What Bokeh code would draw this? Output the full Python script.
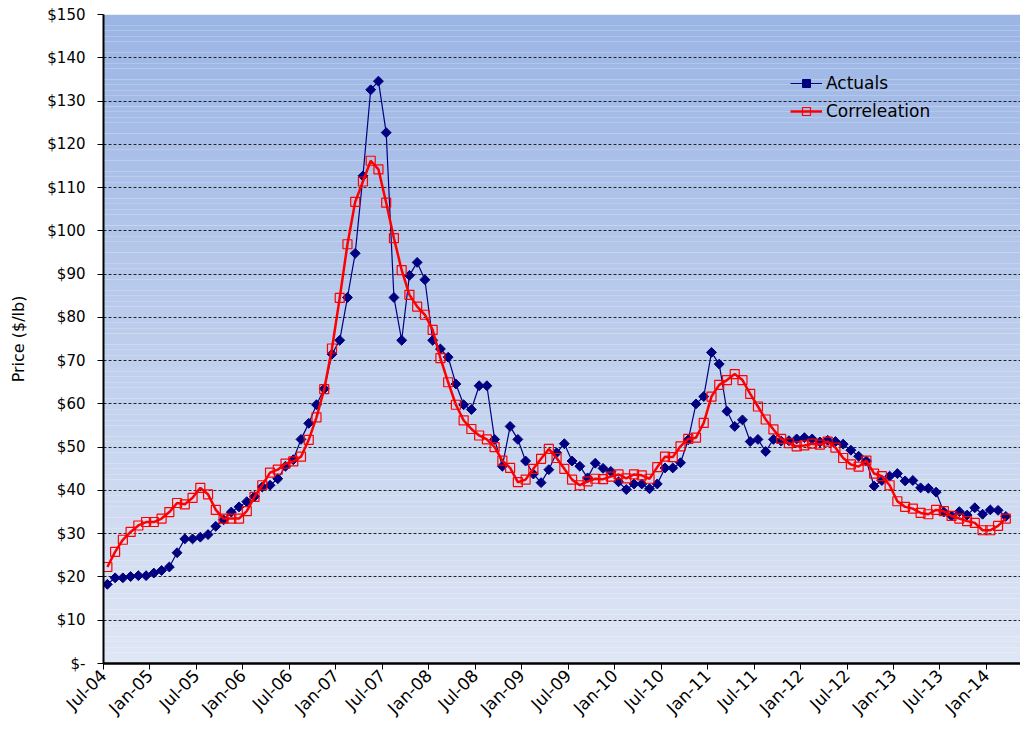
import numpy as np
from bokeh.plotting import figure
from bokeh.models import (Range1d, FixedTicker, Legend, LegendItem, ColumnDataSource)
from bokeh.embed import file_html
from bokeh.resources import INLINE

# ---- data (monthly, Jul-04 .. Mar-14) ----
actuals = [18.3, 19.8, 19.8, 20.1, 20.3, 20.3, 20.9, 21.5, 22.3, 25.6,
           28.8, 28.8, 29.2, 29.8, 31.7, 33.2, 35.0, 36.2, 37.4, 38.6,
           40.8, 41.2, 42.7, 45.6, 47.1, 51.8, 55.5, 59.8, 63.5, 71.5,
           74.7, 84.6, 94.8, 112.7, 132.6, 134.6, 122.7, 84.6, 74.7, 89.7,
           92.7, 88.7, 74.7, 72.7, 70.8, 64.6, 59.8, 58.7, 64.2, 64.2,
           51.8, 45.6, 54.8, 51.8, 46.8, 43.8, 41.8, 44.8, 48.7, 50.8,
           46.8, 45.6, 42.9, 46.3, 45.1, 44.4, 42.0, 40.2, 41.5, 41.5,
           40.4, 41.5, 45.2, 45.2, 46.4, 51.7, 60.0, 61.7, 71.9, 69.2,
           58.3, 54.8, 56.3, 51.3, 51.8, 49.0, 51.8, 51.4, 51.5, 51.9,
           52.2, 51.9, 51.2, 51.6, 51.3, 50.7, 49.3, 47.9, 46.8, 41.0,
           42.3, 43.3, 43.9, 42.2, 42.3, 40.6, 40.5, 39.6, 35.0, 34.1,
           35.1, 34.3, 36.0, 34.5, 35.5, 35.4, 34.0]

correlation = [22.3, 25.8, 28.6, 30.4, 31.9, 32.7, 32.7, 33.5, 35.0, 37.1,
               36.8, 38.3, 40.6, 39.1, 35.5, 33.5, 33.5, 33.5, 35.2, 38.5,
               41.2, 44.1, 44.8, 46.2, 46.7, 47.8, 51.7, 56.9, 63.4, 72.8,
               84.5, 96.9, 106.7, 111.4, 116.2, 114.2, 106.5, 98.3, 90.9, 85.2,
               82.5, 80.6, 77.1, 70.6, 65.0, 59.8, 56.2, 54.2, 52.7, 51.8,
               50.0, 46.9, 45.2, 41.9, 42.5, 45.0, 47.3, 49.6, 47.5, 45.0,
               42.5, 41.2, 42.1, 42.7, 42.6, 43.2, 43.7, 42.8, 43.7, 43.5,
               42.7, 45.4, 47.8, 47.7, 50.2, 51.9, 52.2, 55.6, 61.7, 64.4,
               65.5, 66.9, 65.5, 62.3, 59.4, 56.4, 54.1, 51.9, 50.9, 50.2,
               50.4, 50.8, 50.6, 51.3, 49.9, 47.5, 46.0, 45.5, 46.9, 43.9,
               43.3, 41.2, 37.5, 36.2, 35.8, 34.8, 34.5, 35.5, 35.2, 34.1,
               33.5, 32.9, 32.5, 30.8, 30.8, 31.8, 33.5]

x_tick_labels = ["Jul-04", "Jan-05", "Jul-05", "Jan-06", "Jul-06", "Jan-07",
                 "Jul-07", "Jan-08", "Jul-08", "Jan-09", "Jul-09", "Jan-10",
                 "Jul-10", "Jan-11", "Jul-11", "Jan-12", "Jul-12", "Jan-13",
                 "Jul-13", "Jan-14"]
y_ticks = list(range(0, 151, 10))
y_tick_labels = ["$-"] + ["$%d" % v for v in y_ticks[1:]]

n = len(actuals)
x = np.arange(n) + 0.5  # category centres (months since Jul-04)
x_ticks = [6 * k for k in range(len(x_tick_labels))]

FONT = "DejaVu Sans"
px_per_month = 7.745
frame_w = 917
x_end = frame_w / px_per_month

p = figure(width=1020, height=732, output_backend="svg", toolbar_location=None,
           x_range=Range1d(0, x_end), y_range=Range1d(0, 150),
           min_border_left=103, min_border_right=0, min_border_top=14,
           min_border_bottom=69)
p.outline_line_color = None
p.background_fill_color = "white"
p.border_fill_color = "white"

# vertical gradient background
nb = 120
edges = np.linspace(0, 150, nb + 1)
c_bot = np.array([224, 231, 245])
c_top = np.array([155, 181, 229])
cols = []
for k in range(nb):
    t = (k + 0.5) / nb
    c = (c_bot * (1 - t) + c_top * t).astype(int)
    cols.append("#%02x%02x%02x" % tuple(c))
p.quad(left=0, right=x_end, bottom=edges[:-1], top=edges[1:],
       fill_color=cols, line_color=None, level="image")

# grid
p.xgrid.visible = False
p.ygrid.ticker = FixedTicker(ticks=y_ticks[1:])
p.ygrid.grid_line_color = "#222222"
p.ygrid.grid_line_dash = "3 2"
p.ygrid.grid_line_width = 1

# axes
p.yaxis.ticker = FixedTicker(ticks=y_ticks)
p.yaxis.major_label_overrides = {v: s for v, s in zip(y_ticks, y_tick_labels)}
p.xaxis.ticker = FixedTicker(ticks=x_ticks)
p.xaxis.major_label_overrides = {v: s for v, s in zip(x_ticks, x_tick_labels)}
p.xaxis.major_label_orientation = np.pi / 4
for ax in (p.xaxis, p.yaxis):
    ax.axis_line_color = "black"
    ax.major_tick_line_color = "black"
    ax.major_tick_in = 0
    ax.major_tick_out = 6
    ax.minor_tick_line_color = None
    ax.major_label_text_font = FONT
    ax.major_label_text_color = "black"
p.yaxis.axis_line_width = 2
p.xaxis.axis_line_width = 2.5
p.yaxis.major_label_text_font_size = "15px"
p.xaxis.major_label_text_font_size = "17px"
p.yaxis.major_label_standoff = 12
p.xaxis.major_label_standoff = 3
p.yaxis.axis_label = "Price ($/lb)"
p.yaxis.axis_label_text_font = FONT
p.yaxis.axis_label_text_font_size = "16px"
p.yaxis.axis_label_text_font_style = "normal"
p.yaxis.axis_label_text_color = "black"
p.yaxis.axis_label_standoff = 16

src = ColumnDataSource(dict(x=x, a=actuals, c=correlation))

la = p.line("x", "a", source=src, line_color="#000080", line_width=1.2)
sa = p.scatter("x", "a", source=src, marker="square", angle=np.pi / 4, size=7,
               fill_color="#000080", line_color="#000080")
lc = p.line("x", "c", source=src, line_color="#ff0000", line_width=2.5)
sc = p.scatter("x", "c", source=src, marker="square", size=9,
               fill_alpha=0, line_color="#ff0000", line_width=1.2)

legend = Legend(items=[LegendItem(label="Actuals", renderers=[la, sa]),
                       LegendItem(label="Correleation", renderers=[lc, sc])],
                location=(687, 542), margin=0, padding=0, spacing=8,
                glyph_width=32, glyph_height=20, label_height=20,
                label_standoff=4, background_fill_alpha=0,
                border_line_alpha=0, label_text_font=FONT,
                label_text_font_size="17px", label_text_color="black")
p.add_layout(legend)

open("out.html", "w").write(file_html(p, INLINE))
